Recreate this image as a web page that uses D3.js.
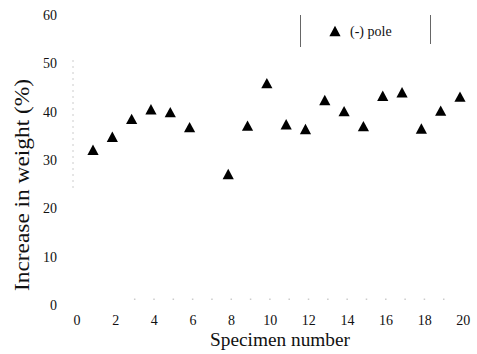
<!DOCTYPE html>
<html>
<head>
<meta charset="utf-8">
<script src="https://cdn.jsdelivr.net/npm/d3@7"></script>
<style>
  html, body { margin: 0; padding: 0; background: #fff; }
  svg { display: block; }
</style>
</head>
<body>
<svg id="chart" width="477" height="354"></svg>
<script>
// Specimen numbers (specimen 7 was not measured)
const specimens = [1, 2, 3, 4, 5, 6, 8, 9, 10, 11, 12, 13, 14, 15, 16, 17, 18, 19, 20];
// Increase in weight (%) for the (-) pole
const increase = [31.9, 34.6, 38.3, 40.3, 39.7, 36.6, 26.9, 36.9, 45.7, 37.2, 36.2, 42.2, 39.9, 36.8, 43.1, 43.8, 36.3, 40.0, 42.9];
const xTicks = [0, 2, 4, 6, 8, 10, 12, 14, 16, 18, 20];
const yTicks = [0, 10, 20, 30, 40, 50, 60];
const seriesName = "(-) pole";

const FONT = "'Liberation Serif', 'Times New Roman', serif";

const svg = d3.select("#chart");

const x = d3.scaleLinear().domain([0, 20]).range([76.5, 462.8]);
const y = d3.scaleLinear().domain([0, 60]).range([305, 15]);

// Filled triangle marker
const tri = "M0,-6.2L5.6,4.2L-5.6,4.2Z";

// Faint remnants of the left axis line
svg.append("line")
  .attr("x1", 73).attr("x2", 73)
  .attr("y1", 60).attr("y2", 190)
  .attr("stroke", "#ccc").attr("stroke-width", 1)
  .attr("stroke-dasharray", "2,4");

// Faint bottom tick dots
const minorX = d3.range(3, 20);
svg.append("g").selectAll("rect")
  .data(minorX)
  .join("rect")
  .attr("x", d => x(d) - 0.5)
  .attr("y", 298.5)
  .attr("width", 1.5).attr("height", 1.5)
  .attr("fill", "#ccc");

// Y axis tick labels
const yAxis = d3.axisLeft(y).tickValues(yTicks).tickSize(0).tickPadding(0);
svg.append("g")
  .attr("transform", "translate(57,0)")
  .call(yAxis)
  .call(g => g.select(".domain").remove())
  .call(g => g.selectAll("text")
    .style("font-family", FONT)
    .style("font-size", "14px")
    .attr("fill", "#111"));

// X axis tick labels
const xAxis = d3.axisBottom(x).tickValues(xTicks).tickSize(0).tickPadding(0);
svg.append("g")
  .attr("transform", "translate(0,315)")
  .call(xAxis)
  .call(g => g.select(".domain").remove())
  .call(g => g.selectAll("text")
    .style("font-family", FONT)
    .style("font-size", "14px")
    .attr("fill", "#111"));

// Data points
svg.append("g")
  .attr("transform", "translate(-2.8,0)")
  .selectAll("path")
  .data(specimens.map((s, i) => ({ s, v: increase[i] })))
  .join("path")
  .attr("d", tri)
  .attr("transform", d => `translate(${x(d.s)},${y(d.v)})`)
  .attr("fill", "#000");

// Axis titles
svg.append("text")
  .attr("transform", "translate(29,185) rotate(-90)")
  .attr("text-anchor", "middle")
  .style("font-family", FONT)
  .style("font-size", "20px")
  .attr("fill", "#111")
  .attr("textLength", 212)
  .attr("lengthAdjust", "spacingAndGlyphs")
  .text("Increase in weight (%)");

svg.append("text")
  .attr("x", 280).attr("y", 346)
  .attr("text-anchor", "middle")
  .style("font-family", FONT)
  .style("font-size", "18px")
  .attr("fill", "#111")
  .attr("textLength", 140)
  .attr("lengthAdjust", "spacingAndGlyphs")
  .text("Specimen number");

// Legend
const legend = svg.append("g");
legend.append("line").attr("x1", 300.5).attr("x2", 300.5).attr("y1", 15).attr("y2", 47)
  .attr("stroke", "#666").attr("stroke-width", 1);
legend.append("line").attr("x1", 430.5).attr("x2", 430.5).attr("y1", 15).attr("y2", 44)
  .attr("stroke", "#666").attr("stroke-width", 1);
legend.append("path").attr("d", tri).attr("transform", "translate(335,32)").attr("fill", "#000");
legend.append("text")
  .attr("x", 350).attr("y", 36)
  .style("font-family", FONT)
  .style("font-size", "14px")
  .attr("fill", "#111")
  .text(seriesName);
</script>
</body>
</html>
